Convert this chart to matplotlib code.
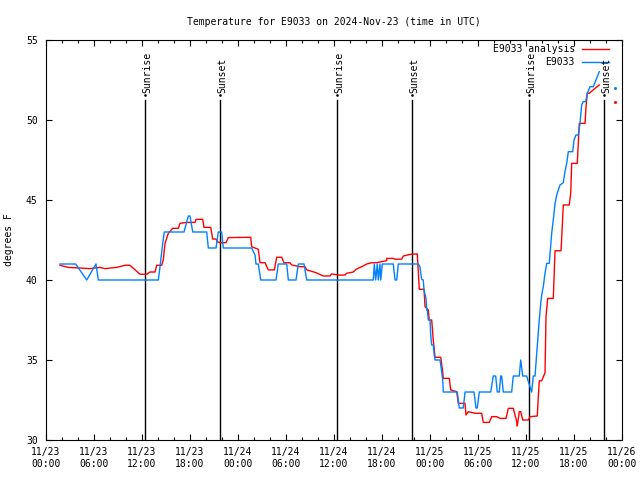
import matplotlib
matplotlib.use("Agg")
import matplotlib.pyplot as plt
import numpy as np

# hours since 11/23 00:00 UTC
red_t = [1.75, 2.79, 5.5, 6.75, 7.38, 8.84, 9.88, 10.5, 11.75, 12.59, 13.0, 13.63, 13.84, 14.46,
         14.66, 14.88, 15.29, 15.84, 16.54, 16.75, 17.59, 18.63, 18.75, 19.59, 19.75, 20.59, 20.84,
         21.25, 21.41, 21.75, 22.5, 22.79, 25.59, 25.71, 26.54, 26.75, 27.38, 27.79, 28.54, 28.84,
         29.46, 29.75, 30.5, 30.71, 31.75, 32.38, 32.59, 33.75, 34.66, 35.5, 35.71, 36.54, 37.38,
         37.59, 38.41, 38.75, 39.46, 40.09, 40.71, 41.34, 42.59, 42.6, 43.41, 43.63, 44.46, 44.66,
         45.5, 46.41, 46.54, 46.66, 47.25, 47.38, 47.79, 47.91, 48.21, 48.41, 48.63, 49.34, 49.59,
         49.66, 50.41, 50.59, 51.34, 51.54, 52.38, 52.5, 52.79, 53.63, 54.46, 54.66, 55.41, 55.71,
         56.34, 56.75, 57.5, 57.79, 58.41, 58.84, 58.91, 59.16, 59.34, 59.59, 60.29, 60.5, 61.41,
         61.54, 61.66, 61.96, 62.38, 62.5, 62.71, 63.41, 63.63, 64.38, 64.46, 64.66, 65.41, 65.59,
         65.71, 66.41, 66.66, 67.38, 67.5, 67.66, 67.91, 68.63, 69.16]
red_v = [40.92, 40.79, 40.71, 40.79, 40.71, 40.79, 40.92, 40.92, 40.36, 40.36, 40.5, 40.5, 40.92, 40.92,
         41.25, 42.29, 42.92, 43.23, 43.23, 43.54, 43.6, 43.6, 43.79, 43.79, 43.29, 43.29, 42.56,
         42.56, 42.4, 42.33, 42.33, 42.65, 42.67, 42.08, 41.92, 41.08, 41.08, 40.63, 40.63, 41.42,
         41.42, 41.08, 41.08, 40.94, 40.83, 40.83, 40.63, 40.46, 40.25, 40.25, 40.38, 40.31, 40.31,
         40.42, 40.5, 40.67, 40.83, 41.0, 41.08, 41.08, 41.21, 41.35, 41.35, 41.3, 41.3, 41.5,
         41.6, 41.63, 40.52, 39.42, 39.42, 38.33, 38.13, 37.5, 37.5, 36.25, 35.17, 35.17, 34.27,
         33.85, 33.85, 33.13, 33.02, 32.29, 32.29, 31.56, 31.77, 31.67, 31.67, 31.1, 31.1, 31.46,
         31.46, 31.35, 31.35, 31.98, 31.98, 31.15, 30.88, 31.77, 31.77, 31.25, 31.25, 31.46, 31.5,
         32.71, 33.7, 33.7, 34.21, 37.71, 38.85, 38.85, 41.83, 41.83, 42.6, 44.69, 44.69, 45.42,
         47.29, 47.29, 49.79, 49.79, 50.83, 51.67, 51.67, 51.98, 52.19]
red_tail_t = [71.13]
red_tail_v = [51.15]

blue_t = [1.75, 3.71, 5.09, 6.25, 6.54, 14.04, 14.25, 14.59, 14.79, 17.25, 17.79, 18.0, 18.34, 20.09,
          20.29, 21.25, 21.54, 21.96, 22.16, 25.71, 26.13, 26.25, 26.54, 26.84, 28.75, 29.04, 30.09,
          30.29, 31.25, 31.54, 32.25, 32.59, 40.91, 41.04, 41.21, 41.41, 41.54, 41.75, 41.84, 42.04,
          43.41, 43.63, 43.84, 44.04, 46.54, 46.75, 46.84, 46.96, 47.16, 47.25, 47.5, 47.59, 47.66,
          47.79, 48.0, 48.09, 48.21, 48.41, 48.54, 48.63, 49.25, 49.46, 49.59, 49.66, 51.41, 51.66,
          52.16, 52.38, 53.5, 53.75, 53.91, 54.16, 55.59, 55.91, 56.21, 56.41, 56.66, 56.84, 56.96,
          57.16, 58.21, 58.41, 59.16, 59.34, 59.59, 60.09, 60.29, 60.71, 60.91, 61.13, 61.34, 61.66,
          61.84, 61.96, 62.16, 62.38, 62.59, 62.91, 63.21, 63.41, 63.63, 63.84, 64.25, 64.66, 64.88,
          65.09, 65.29, 65.84, 66.0, 66.25, 66.54, 66.75, 66.96, 67.16, 67.46, 67.66, 68.0, 68.41,
          69.16]
blue_v = [41, 41, 40, 41, 40, 40, 40.83, 42.29, 43, 43, 44, 44, 43, 43,
          42, 42, 43, 43, 42, 42, 41.56, 41, 41, 40, 40, 41, 41,
          40, 40, 41, 41, 40, 40, 41, 40, 41, 40, 41, 40, 41,
          41, 40, 40, 41, 41, 40.83, 40.42, 40.04, 40, 39.38, 38.85, 38.13, 38.13,
          37.5, 37.5, 36.56, 35.94, 35.94, 35.31, 35, 35, 34.27, 33.75, 33, 33, 32,
          32, 33, 33, 32, 32, 33, 33, 34, 34, 33, 33, 34, 34,
          33, 33, 34, 34, 35, 34, 34, 33.65, 33, 34, 34, 35.42, 37.5,
          38.54, 39.06, 39.58, 40.42, 41.04, 41.04, 42.92, 43.75, 44.79, 45.31, 45.94, 46.08, 46.8,
          47.29, 48.02, 48.02, 48.75, 49.06, 49.06, 49.79, 50.94, 51.15, 51.15, 51.67, 52.08, 52.08,
          53.02]
blue_tail_t = [71.13]
blue_tail_v = [52.0]

sunrise_t = [12.42, 36.42, 60.35]
sunset_t = [21.79, 45.79, 69.75]

tick_hours = list(range(0, 73, 6))
tick_labels = ["11/23\n00:00", "11/23\n06:00", "11/23\n12:00", "11/23\n18:00",
               "11/24\n00:00", "11/24\n06:00", "11/24\n12:00", "11/24\n18:00",
               "11/25\n00:00", "11/25\n06:00", "11/25\n12:00", "11/25\n18:00",
               "11/26\n00:00"]

plt.rcParams['font.family'] = ['DejaVu Sans Mono']
plt.rcParams['font.size'] = 7

fig = plt.figure(figsize=(6.4, 4.8), dpi=100)
ax = fig.add_axes([46 / 640, 40 / 480, 576 / 640, 400 / 480])

red = '#ff0000'
blue = '#0080ff'

# sunrise / sunset markers
for t in sunrise_t:
    ax.plot([t, t], [30, 51.25], color='black', lw=1.0)
    ax.plot([t], [51.56], marker='s', ms=0.8, color='black')
    ax.text(t + 0.3, 51.7, 'Sunrise', rotation=90, ha='center', va='bottom', fontsize=7)
for t in sunset_t:
    ax.plot([t, t], [30, 51.25], color='black', lw=1.0)
    ax.plot([t], [51.56], marker='s', ms=0.8, color='black')
    ax.text(t + 0.3, 51.7, 'Sunset', rotation=90, ha='center', va='bottom', fontsize=7)

ax.plot(red_t, red_v, color=red, lw=1.0)
ax.plot(red_tail_t, red_tail_v, color=red, marker='s', ms=1.0, lw=0)
ax.plot(blue_t, blue_v, color=blue, lw=1.0)
ax.plot(blue_tail_t, blue_tail_v, color=blue, marker='s', ms=1.0, lw=0)

ax.set_xlim(0, 72)
ax.set_ylim(30, 55)
ax.set_xticks(tick_hours)
ax.set_xticklabels(tick_labels)
ax.set_xticks(range(0, 73, 2), minor=True)
ax.set_yticks([30, 35, 40, 45, 50, 55])
ax.tick_params(which='major', direction='in', length=4.5, width=0.8, top=True, right=True, labelsize=7)
ax.tick_params(which='minor', direction='in', length=2.5, width=0.8, top=True, right=True)
ax.tick_params(axis='x', which='major', pad=5)
ax.tick_params(axis='y', which='major', pad=6)
for s in ax.spines.values():
    s.set_linewidth(0.8)

ax.set_title('Temperature for E9033 on 2024-Nov-23 (time in UTC)', fontsize=7, pad=11)
ax.set_ylabel('degrees F', fontsize=7)
ax.yaxis.set_label_coords(-0.055, 0.5)

# legend, right-aligned text like the original
ax.text(0.918, 0.9775, 'E9033 analysis', transform=ax.transAxes, ha='right', va='center', fontsize=7)
ax.plot([0.9306, 0.9774], [0.9775, 0.9775], transform=ax.transAxes, color=red, lw=1.0)
ax.text(0.918, 0.945, 'E9033', transform=ax.transAxes, ha='right', va='center', fontsize=7)
ax.plot([0.9306, 0.9774], [0.945, 0.945], transform=ax.transAxes, color=blue, lw=1.0)

fig.savefig('out.png', dpi=100)
